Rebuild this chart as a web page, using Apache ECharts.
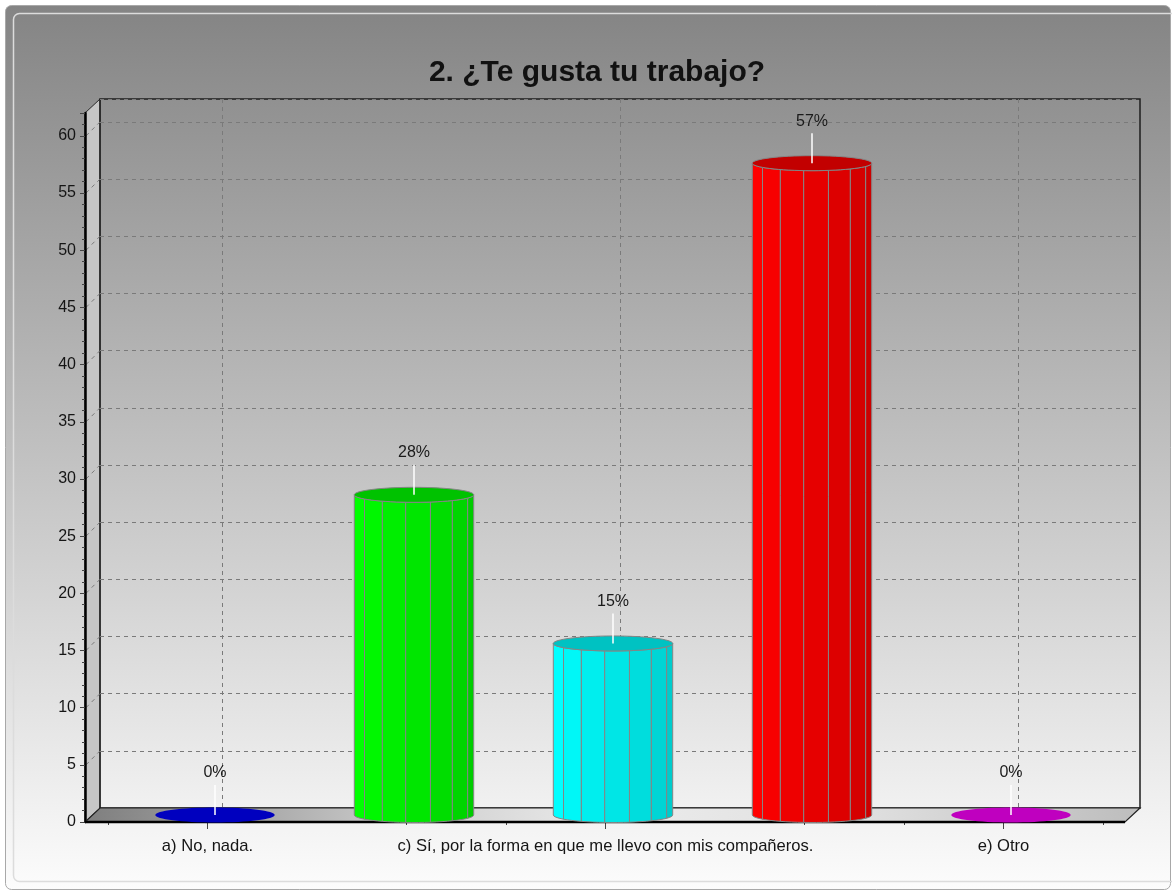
<!DOCTYPE html>
<html><head><meta charset="utf-8">
<script src="https://cdn.jsdelivr.net/npm/echarts@6/dist/echarts.min.js"></script>
<style>html,body{margin:0;padding:0;background:#fff}#c{width:1172px;height:892px}</style>
</head><body><div id="c"></div>
<script>
const chartTitle = '2. ¿Te gusta tu trabajo?';
const categories = ['a) No, nada.', 'b)', 'c) Sí, por la forma en que me llevo con mis compañeros.', 'd)', 'e) Otro'];
const values = [0, 28, 15, 57, 0];
const valueLabels = ['0%', '28%', '15%', '57%', '0%'];
const barColors = ['#0000ff', '#00ff00', '#00ffff', '#ff0000', '#ff00ff'];
const yTicks = [5, 10, 15, 20, 25, 30, 35, 40, 45, 50, 55, 60];
const yMin = 0, yMax = 62, yStep = 5;

const FONT = '"Liberation Sans", Arial, sans-serif';
const DX = 15, DY = 14; // depth offset

function shade(hex, f) {
  const n = parseInt(hex.slice(1), 16);
  const r = Math.round(((n >> 16) & 255) * f), g = Math.round(((n >> 8) & 255) * f), b = Math.round((n & 255) * f);
  return 'rgb(' + r + ',' + g + ',' + b + ')';
}

const facetAngles = [180, 146, 122, 98, 74, 50, 26, 0];

function renderBar(params, api) {
  const i = api.value(0), v = api.value(1);
  const base = api.coord([i, 0]);
  const top = api.coord([i, v]);
  const band = api.size([1, 0])[0];
  const rx = band * 0.3, ry = 7.5;
  const cx = base[0] + DX / 2;
  const yB = base[1] - DY / 2, yT = top[1] - DY / 2;
  const col = barColors[i];
  const children = [];
  if (v > 0) {
    for (let k = 0; k < facetAngles.length - 1; k++) {
      const a1 = facetAngles[k] * Math.PI / 180, a2 = facetAngles[k + 1] * Math.PI / 180;
      const pts = [];
      const steps = 4;
      for (let s = 0; s <= steps; s++) {
        const a = a1 + (a2 - a1) * s / steps;
        pts.push([cx + rx * Math.cos(a), yT + ry * Math.sin(a)]);
      }
      for (let s = steps; s >= 0; s--) {
        const a = a1 + (a2 - a1) * s / steps;
        pts.push([cx + rx * Math.cos(a), yB + ry * Math.sin(a)]);
      }
      const f = 1 - 0.2 * k / (facetAngles.length - 2);
      children.push({
        type: 'polygon', shape: { points: pts },
        style: { fill: shade(col, f), stroke: '#858585', lineWidth: 1 }
      });
    }
    children.push({
      type: 'ellipse', shape: { cx: cx, cy: yT, rx: rx, ry: ry },
      style: { fill: shade(col, 0.76), stroke: '#858585', lineWidth: 1 }
    });
  } else {
    children.push({
      type: 'ellipse', shape: { cx: cx, cy: yT, rx: rx, ry: ry },
      style: { fill: shade(col, 0.75) }
    });
  }
  children.push({
    type: 'line', shape: { x1: cx, y1: yT, x2: cx, y2: yT - 30 },
    style: { stroke: '#ffffff', lineWidth: 1.5 }
  });
  children.push({
    type: 'text', x: cx, y: yT - 42,
    style: { text: valueLabels[i], fontSize: 16, fontFamily: FONT, fill: '#1a1a1a', align: 'center', verticalAlign: 'middle' }
  });
  return { type: 'group', children: children };
}

function renderSideLines(params, api) {
  const v = api.value(0);
  const p = api.coord([0, v]);
  return {
    type: 'line', shape: { x1: p[0] + 1, y1: p[1], x2: p[0] + DX, y2: p[1] - DY },
    style: { stroke: '#7a7a7a', lineWidth: 1, lineDash: [4, 4] }
  };
}

const FL = 85, FT = 113, FW = 1040, FH = 709;
const chart = echarts.init(document.getElementById('c'), null, { renderer: 'canvas' });
const hidden = { show: false };
chart.setOption({
  animation: false,
  graphic: [
    { type: 'rect', z: -10, shape: { x: 5.5, y: 5.5, width: 1165, height: 884, r: 6 },
      style: { fill: new echarts.graphic.LinearGradient(0, 0, 0, 1, [{ offset: 0, color: '#848484' }, { offset: 1, color: '#fcfcfc' }]), stroke: '#a8a8a8', lineWidth: 1 } },
    { type: 'rect', z: -9, shape: { x: 13.5, y: 13.5, width: 1180, height: 868, r: 6 },
      style: { fill: 'none', stroke: '#dcdcdc', lineWidth: 1.5 } },
    { type: 'polygon', z: -5, shape: { points: [[FL, FT], [FL + DX, FT - DY], [FL + DX, FT + FH - DY], [FL, FT + FH]] },
      style: { fill: '#c6c6c6', stroke: '#2a2a2a', lineWidth: 1 } },
    { type: 'polygon', z: 1, shape: { points: [[FL, FT + FH], [FL + DX, FT + FH - DY], [FL + FW + DX, FT + FH - DY], [FL + FW, FT + FH]] },
      style: { fill: new echarts.graphic.LinearGradient(0, 0, 1, 0, [
        { offset: 0, color: '#7e7e7e' }, { offset: 0.3, color: '#cccccc' }, { offset: 0.5, color: '#ececec' },
        { offset: 0.75, color: '#dedede' }, { offset: 1, color: '#bdbdbd' }]), stroke: '#222', lineWidth: 1.2 } },
    { type: 'line', z: 1, shape: { x1: FL, y1: FT + FH, x2: FL + FW, y2: FT + FH }, style: { stroke: '#000', lineWidth: 2.5 } },
    { type: 'text', z: 5, x: 597, y: 73,
      style: { text: chartTitle, fontSize: 30, fontWeight: 'bold', fontFamily: FONT, fill: '#111', align: 'center', verticalAlign: 'middle' } }
  ],
  grid: [
    { left: FL, top: FT, width: FW, height: FH },
    { left: FL + DX, top: FT - DY, width: FW, height: FH, show: true, backgroundColor: 'transparent', borderColor: '#1e1e1e', borderWidth: 1.5 },
    { left: 222.5, top: FT - DY, width: 796, height: FH },
    { left: 108, top: FT, width: 995, height: FH }
  ],
  xAxis: [
    { gridIndex: 0, type: 'value', min: 0, max: 1, show: false },
    { gridIndex: 1, type: 'value', min: 0, max: 1, show: false },
    { gridIndex: 2, type: 'category', data: categories, boundaryGap: false,
      axisLine: hidden, axisTick: hidden, axisLabel: hidden,
      splitLine: { show: true, interval: 1, lineStyle: { color: '#7a7a7a', type: [4, 4], width: 1 } } },
    { gridIndex: 3, type: 'category', data: categories, position: 'bottom',
      axisLine: hidden, axisLabel: hidden, splitLine: hidden,
      axisTick: { show: true, length: 3, lineStyle: { color: '#444' } } },
    { gridIndex: 3, type: 'category', data: categories, position: 'bottom',
      axisLine: hidden, axisLabel: hidden, splitLine: hidden,
      axisTick: { show: true, alignWithLabel: true, interval: 0, length: 3, lineStyle: { color: '#444' } } },
    { gridIndex: 3, type: 'category', data: categories, position: 'bottom',
      axisLine: hidden, splitLine: hidden,
      axisTick: { show: true, alignWithLabel: true, interval: 1, length: 7, lineStyle: { color: '#444' } },
      axisLabel: { interval: 1, fontSize: 16.6, fontFamily: FONT, color: '#151515', margin: 16 } }
  ],
  yAxis: [
    { gridIndex: 0, type: 'value', min: yMin, max: yMax, interval: yStep,
      axisLine: { show: true, lineStyle: { color: '#000', width: 2.5 } },
      axisTick: { show: true, length: 5, lineStyle: { color: '#444' } },
      minorTick: { show: true, splitNumber: 5, length: 3, lineStyle: { color: '#444' } },
      axisLabel: { fontSize: 16, fontFamily: FONT, color: '#151515', margin: 9, showMaxLabel: false, padding: [3, 0, 0, 0] },
      splitLine: hidden },
    { gridIndex: 1, type: 'value', min: yMin, max: yMax, interval: yStep,
      axisLine: hidden, axisTick: hidden, axisLabel: hidden,
      splitLine: { show: true, lineStyle: { color: '#7a7a7a', type: [4, 4], width: 1 } } },
    { gridIndex: 2, type: 'value', min: yMin, max: yMax, show: false },
    { gridIndex: 3, type: 'value', min: yMin, max: yMax, show: false }
  ],
  series: [
    { type: 'custom', xAxisIndex: 0, yAxisIndex: 0, z: 0, renderItem: renderSideLines,
      data: yTicks.map(v => [v]), encode: { y: 0 }, silent: true },
    { type: 'custom', xAxisIndex: 5, yAxisIndex: 3, z: 3, renderItem: renderBar,
      data: values.map((v, i) => [i, v]), encode: { x: 0, y: 1 } }
  ]
});
</script></body></html>
